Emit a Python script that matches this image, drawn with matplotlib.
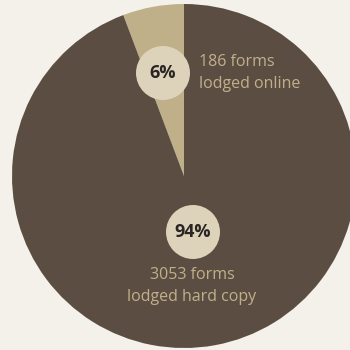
import matplotlib
matplotlib.use('Agg')
import matplotlib.pyplot as plt
from matplotlib.patches import Circle

# Datos
categorias = ['lodged online', 'lodged hard copy']
formularios = [186, 3053]
porcentajes = ['6%', '94%']

# Colores
fondo = '#f3f1e9'
marron = '#5c4d43'
tostado = '#c0b08a'
crema = '#dcd3ba'

plt.rcParams['font.family'] = ['Open Sans', 'DejaVu Sans']

fig = plt.figure(figsize=(3.5, 3.5), dpi=100, facecolor=fondo)
ax = fig.add_axes([0, 0, 1, 1])
ax.set_facecolor(fondo)

cx, cy, r = 184, 174, 172
ax.pie(formularios, colors=[tostado, marron], startangle=90, counterclock=True,
       center=(cx, cy), radius=r, frame=True,
       wedgeprops=dict(linewidth=0))
ax.set_xlim(0, 350)
ax.set_ylim(0, 350)
ax.set_aspect('equal')
ax.axis('off')

# Etiquetas
pos_circulo = [(163, 277), (193, 118)]
for (x, y), pct in zip(pos_circulo, porcentajes):
    ax.add_patch(Circle((x, y), 27, facecolor=crema, edgecolor='none', zorder=3))
    ax.text(x, y, pct, ha='center', va='center', fontsize=13, fontweight='bold',
            color='#2a2522', zorder=4)

ax.text(199, 277, f'{formularios[0]} forms\n{categorias[0]}', ha='left', va='center',
        fontsize=11.5, color=tostado, linespacing=1.45)
ax.text(192, 64, f'{formularios[1]} forms\n{categorias[1]}', ha='center', va='center',
        fontsize=11.5, color=tostado, linespacing=1.45)

fig.savefig('out.png', dpi=100, facecolor=fondo)
